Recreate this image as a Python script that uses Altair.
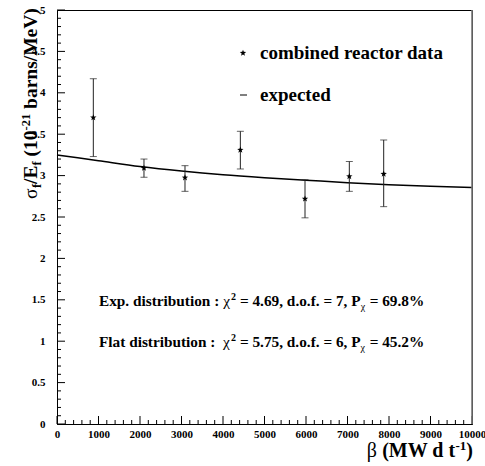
import altair as alt
import pandas as pd
import numpy as np
import math

# ---- data ----
beta = [875, 2096, 3084, 4418, 5976, 7044, 7872]
sigma = [3.70, 3.09, 2.975, 3.31, 2.72, 2.99, 3.02]
err_hi = [4.17, 3.20, 3.12, 3.535, 2.95, 3.17, 3.43]
err_lo = [3.23, 2.98, 2.81, 3.08, 2.49, 2.81, 2.625]

curve_x = [0, 1000, 2000, 3000, 4000, 5000, 6000, 7000, 8000, 9000, 10000]
curve_y = [3.25, 3.18, 3.11, 3.055, 3.01, 2.975, 2.945, 2.915, 2.89, 2.87, 2.855]

y_major = [0, 0.5, 1, 1.5, 2, 2.5, 3, 3.5, 4, 4.5, 5]
x_major = [0, 1000, 2000, 3000, 4000, 5000, 6000, 7000, 8000, 9000, 10000]

W, H = 415, 414
FONT = "Liberation Serif"

# five-pointed star symbol path in the [-1, 1] box
_pts = []
for k in range(10):
    r = 1.0 if k % 2 == 0 else 0.42
    a = math.radians(-90 + 36 * k)
    _pts.append(f"{r * math.cos(a):.3f},{r * math.sin(a):.3f}")
STAR = "M" + "L".join(_pts) + "Z"

pts = pd.DataFrame({"beta": beta, "sigma": sigma, "hi": err_hi, "lo": err_lo})
curve = pd.DataFrame({"beta": curve_x, "sigma": curve_y})

xs = alt.Scale(domain=[0, 10000], nice=False, zero=False)
ys = alt.Scale(domain=[0, 5], nice=False, zero=False)

y_minor = [round(v, 1) for v in np.arange(0, 5.0001, 0.1) if round(v * 10) % 5 != 0]
x_minor = [int(v) for v in np.arange(0, 10001, 200) if int(v) % 1000 != 0]

AX = alt.Axis(values=x_major, format="d", ticks=False, labelPadding=4, orient="bottom",
              labelFont=FONT, labelFontWeight="bold", labelFontSize=11,
              labelColor="black", domainColor="black", grid=False, title=None,
              labelOverlap=False, labelFlush=False, labelBound=False)
AY = alt.Axis(values=y_major, format="~g", ticks=False, labelPadding=12, orient="left",
              labelFont=FONT, labelFontWeight="bold", labelFontSize=11,
              labelColor="black", domainColor="black", grid=False, title=None,
              labelOverlap=False, labelFlush=False, labelBound=False)

X = lambda f: alt.X(f, scale=xs, axis=AX)
Y = lambda f: alt.Y(f, scale=ys, axis=AY)

line = alt.Chart(curve).mark_line(color="black", strokeWidth=1.5, interpolate="monotone").encode(
    x=X("beta:Q"), y=Y("sigma:Q"))
bars = alt.Chart(pts).mark_rule(color="#222", strokeWidth=1).encode(
    x=X("beta:Q"), y=Y("lo:Q"), y2="hi:Q")
cap_hi = alt.Chart(pts).mark_tick(orient="horizontal", color="#222", size=7, thickness=1).encode(
    x=X("beta:Q"), y=Y("hi:Q"))
cap_lo = alt.Chart(pts).mark_tick(orient="horizontal", color="#222", size=7, thickness=1).encode(
    x=X("beta:Q"), y=Y("lo:Q"))
stars = alt.Chart(pts).mark_point(shape=STAR, filled=True, color="black", size=45, opacity=1).encode(
    x=X("beta:Q"), y=Y("sigma:Q"))


def yticks(vals, L):
    return alt.Chart(pd.DataFrame({"v": vals})).mark_rule(color="black", strokeWidth=1).encode(
        y=Y("v:Q"), x=alt.value(0), x2=alt.value(L))


def xticks(vals, L):
    return alt.Chart(pd.DataFrame({"v": vals})).mark_rule(color="black", strokeWidth=1).encode(
        x=X("v:Q"), y=alt.value(H), y2=alt.value(H - L))


one = pd.DataFrame({"a": [0]})

# ---- text layout helpers (Times-Bold metrics, per 1000 em) ----
TB = {' ': 250, '!': 333, '%': 1000, '(': 333, ')': 333, ',': 250, '-': 333, '.': 250,
      '/': 278, ':': 333, '=': 570,
      'A': 722, 'B': 667, 'C': 722, 'D': 722, 'E': 667, 'F': 611, 'G': 778, 'H': 778,
      'I': 389, 'J': 500, 'K': 778, 'L': 667, 'M': 944, 'N': 722, 'O': 778, 'P': 611,
      'Q': 778, 'R': 722, 'S': 556, 'T': 667, 'U': 722, 'V': 722, 'W': 1000, 'X': 722,
      'Y': 722, 'Z': 667, 'a': 500, 'b': 556, 'c': 444, 'd': 556, 'e': 444, 'f': 333,
      'g': 500, 'h': 556, 'i': 278, 'j': 333, 'k': 556, 'l': 278, 'm': 833, 'n': 556,
      'o': 500, 'p': 556, 'q': 556, 'r': 444, 's': 389, 't': 333, 'u': 556, 'v': 500,
      'w': 722, 'x': 500, 'y': 500, 'z': 444, 'β': 520, 'σ': 560, 'χ': 520}


def tw(s, size):
    return sum(TB.get(c, 500) for c in s) / 1000.0 * size


def lead(s):
    return len(s) - len(s.lstrip(" "))


def hruns(x0, y0, runs):
    out, x = [], x0
    for text, size, dy, weight in runs:
        sh = tw(" " * lead(text), size)
        out.append((x + sh, y0 + dy, text.strip(" "), size, weight, 0))
        x += tw(text, size)
    return out


def vruns(xb, y0, runs):
    out, y = [], y0
    for text, size, dx, weight in runs:
        sh = tw(" " * lead(text), size)
        out.append((xb + dx, y - sh, text.strip(" "), size, weight, 270))
        y -= tw(text, size)
    return out


OX, OY = 57, 10  # plot origin in page pixels

pieces = []
pieces += vruns(37 - OX, 199 - OY, [
    ("σ", 19.5, 0, "normal"), ("f", 12.5, 4, "bold"), ("/E", 19.5, 0, "bold"),
    ("f", 12.5, 4, "bold"), (" (10", 19.5, 0, "bold"), ("-21", 12.5, -7, "bold"),
    (" barns/MeV)", 19.5, 0, "bold")])
xt_runs = [("β", 20, 0, "normal"), (" (MW d t", 20, 0, "bold"), ("-1", 13, -7, "bold"),
           (")", 20, 0, "bold")]
xt_w = sum(tw(r[0], r[1]) for r in xt_runs)
pieces += hruns(W + 1 - xt_w, 457 - OY, xt_runs)
pieces += hruns(260 - OX, 59 - OY, [("combined reactor data", 19, 0, "bold")])
pieces += hruns(260 - OX, 101 - OY, [("expected", 19, 0, "bold")])
pieces += hruns(99 - OX, 306 - OY, [
    ("Exp. distribution : ", 15.3, 0, "bold"), ("χ", 15.3, 0, "normal"), ("2", 10, -6, "bold"),
    (" = 4.69, d.o.f. = 7, P", 15.3, 0, "bold"), ("χ", 10, 4, "normal"),
    (" = 69.8%", 15.3, 0, "bold")])
pieces += hruns(99 - OX, 347 - OY, [
    ("Flat distribution  : ", 15.3, 0, "bold"), ("χ", 15.3, 0, "normal"), ("2", 10, -6, "bold"),
    (" = 5.75, d.o.f. = 6, P", 15.3, 0, "bold"), ("χ", 10, 4, "normal"),
    (" = 45.2%", 15.3, 0, "bold")])

text_layers = []
for x, y, text, size, weight, ang in pieces:
    text_layers.append(alt.Chart(one).mark_text(
        text=text, font=FONT, fontSize=size, fontWeight=weight, align="left",
        baseline="alphabetic", angle=ang, color="black").encode(
        x=alt.value(round(x, 2)), y=alt.value(round(y, 2))))

leg_star = alt.Chart(one).mark_point(shape=STAR, filled=True, color="black", size=45, opacity=1).encode(
    x=alt.value(243 - OX), y=alt.value(53 - OY))
leg_dash = alt.Chart(one).mark_rule(color="black", strokeWidth=1).encode(
    x=alt.value(240 - OX), x2=alt.value(247 - OX), y=alt.value(95 - OY))
right_edge = alt.Chart(one).mark_rule(color="#777", strokeWidth=1.6).encode(
    x=alt.value(W), y=alt.value(0), y2=alt.value(H))

chart = alt.layer(
    line, bars, cap_hi, cap_lo, stars,
    yticks(y_major, 8), yticks(y_minor, 4), xticks(x_major, 8), xticks(x_minor, 4),
    right_edge, leg_star, leg_dash, *text_layers
).properties(
    width=W, height=H,
    autosize=alt.AutoSizeParams(type="none"),
    padding={"left": OX, "top": OY, "right": 485 - OX - W, "bottom": 466 - OY - H},
    background="white",
).configure_view(stroke="black", strokeWidth=1)

chart.save("out.html", embed_options={"renderer": "svg", "actions": False})
